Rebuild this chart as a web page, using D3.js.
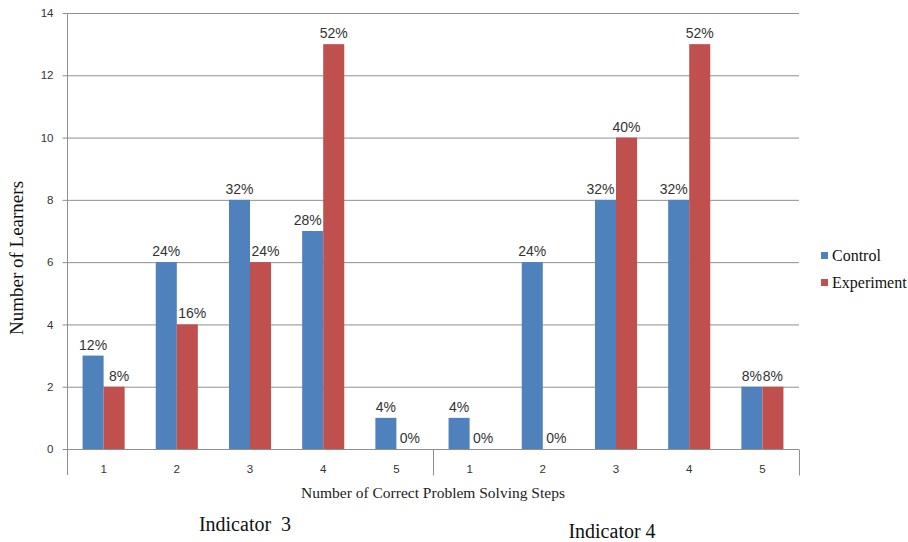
<!DOCTYPE html>
<html>
<head>
<meta charset="utf-8">
<script src="https://cdn.jsdelivr.net/npm/d3@7"></script>
<style>
  html, body { margin: 0; padding: 0; background: #fff; }
  svg { display: block; }
  .sans { font-family: "Liberation Sans", Arial, sans-serif; }
  .serif { font-family: "Liberation Serif", "Times New Roman", serif; }
</style>
</head>
<body>
<svg id="chart" width="908" height="542"></svg>
<script>
// Learners per number of correct problem-solving steps, two indicators
const steps = ["1", "2", "3", "4", "5"];
const indicators = ["Indicator  3", "Indicator 4"];
const seriesNames = ["Control", "Experiment"];
const seriesColors = ["#4F81BD", "#C0504D"];

const control3 = [3, 6, 8, 7, 1];
const experiment3 = [2, 4, 6, 13, 0];
const control4 = [1, 6, 8, 8, 2];
const experiment4 = [0, 0, 10, 13, 2];

const controlLabels3 = ["12%", "24%", "32%", "28%", "4%"];
const experimentLabels3 = ["8%", "16%", "24%", "52%", "0%"];
const controlLabels4 = ["4%", "24%", "32%", "32%", "8%"];
const experimentLabels4 = ["0%", "0%", "40%", "52%", "8%"];

const yTicks = [0, 2, 4, 6, 8, 10, 12, 14];

// Flatten into one row per category slot
const rows = [];
[[control3, experiment3, controlLabels3, experimentLabels3],
 [control4, experiment4, controlLabels4, experimentLabels4]].forEach((g, gi) => {
  steps.forEach((s, i) => {
    rows.push({
      key: gi + "-" + s, step: s, group: gi,
      values: [g[0][i], g[1][i]],
      labels: [g[2][i], g[3][i]]
    });
  });
});

const svg = d3.select("#chart");
const m = { left: 67, right: 799, top: 13, bottom: 449 };

const x = d3.scaleBand().domain(rows.map(r => r.key)).range([m.left, m.right]).paddingInner(0).paddingOuter(0);
const xs = d3.scaleBand().domain(seriesNames).range([0, x.bandwidth()]).paddingInner(0).paddingOuter(0.74);
const y = d3.scaleLinear().domain([0, 14]).range([m.bottom, m.top]);

const gridColor = "#8f8f8f";

// Horizontal gridlines
svg.append("g")
  .selectAll("line").data(yTicks.filter(t => t > 0)).join("line")
  .attr("x1", m.left).attr("x2", m.right)
  .attr("y1", d => y(d) + 0.5).attr("y2", d => y(d) + 0.5)
  .attr("stroke", gridColor).attr("stroke-width", 1);

// Y axis
const yAxis = svg.append("g").attr("transform", `translate(${m.left + 0.5},0)`)
  .call(d3.axisLeft(y).tickValues(yTicks).tickSize(5).tickPadding(9).tickFormat(d3.format("d")));
yAxis.attr("font-family", null).attr("font-size", null);
yAxis.select(".domain").attr("stroke", gridColor).attr("d", `M0,${m.top}V${m.bottom + 26}`);
yAxis.selectAll(".tick line").attr("stroke", gridColor);
yAxis.selectAll(".tick text").attr("class", "sans").attr("font-size", 11.5).attr("fill", "#333");

// Bars
const barGroups = svg.append("g").selectAll("g").data(rows).join("g")
  .attr("transform", d => `translate(${x(d.key)},0)`);

barGroups.selectAll("rect").data(d => d.values.map((v, i) => ({ v, i, name: seriesNames[i] })))
  .join("rect")
  .attr("x", d => xs(d.name))
  .attr("width", xs.bandwidth())
  .attr("y", d => y(d.v))
  .attr("height", d => y(0) - y(d.v))
  .attr("fill", d => seriesColors[d.i]);

// Value labels above bars; a label steps away from a taller neighbouring bar
barGroups.selectAll("text").data(d => d.values.map((v, i) => {
    const other = d.values[1 - i];
    const dir = i === 0 ? -1 : 1;
    const nudge = other > v ? dir * (v === 0 ? 3 : 5) : 0;
    return { v, i, name: seriesNames[i], label: d.labels[i], nudge };
  }))
  .join("text")
  .attr("class", "sans")
  .attr("x", d => xs(d.name) + xs.bandwidth() / 2 + d.nudge)
  .attr("y", d => y(d.v) - 6)
  .attr("text-anchor", "middle")
  .attr("font-size", 14)
  .attr("fill", "#333")
  .text(d => d.label);

// X axis baseline and category ticks
const xAxis = svg.append("g").attr("transform", `translate(0,${m.bottom + 0.5})`);
xAxis.append("line").attr("x1", m.left).attr("x2", m.right).attr("stroke", gridColor);
[m.left + x.bandwidth() * 5, m.right].forEach(px => {
  xAxis.append("line").attr("x1", Math.round(px) + 0.5).attr("x2", Math.round(px) + 0.5)
    .attr("y1", 0).attr("y2", 26).attr("stroke", gridColor);
});
xAxis.selectAll("text.cat").data(rows).join("text")
  .attr("class", "cat sans")
  .attr("x", d => x(d.key) + x.bandwidth() / 2)
  .attr("y", 23)
  .attr("text-anchor", "middle")
  .attr("font-size", 11.5).attr("fill", "#333")
  .text(d => d.step);

// Axis titles
svg.append("text")
  .attr("class", "serif")
  .attr("transform", `translate(23,258) rotate(-90)`)
  .attr("text-anchor", "middle")
  .attr("font-size", 19).attr("fill", "#111")
  .text("Number of Learners");

svg.append("text")
  .attr("class", "serif")
  .attr("x", 433).attr("y", 498)
  .attr("text-anchor", "middle")
  .attr("font-size", 15.5).attr("fill", "#222")
  .text("Number of Correct Problem Solving Steps");

// Indicator captions under each group
const captionX = [245, 612];
const captionY = [531, 538];
svg.selectAll("text.ind").data(indicators).join("text")
  .attr("class", "ind serif")
  .attr("x", (d, i) => captionX[i]).attr("y", (d, i) => captionY[i])
  .attr("text-anchor", "middle")
  .attr("font-size", 20).attr("fill", "#111")
  .style("white-space", "pre")
  .text(d => d);

// Legend
const legend = svg.append("g").attr("transform", "translate(821,256)");
const li = legend.selectAll("g").data(seriesNames).join("g")
  .attr("transform", (d, i) => `translate(0,${i * 27})`);
li.append("rect").attr("x", 0).attr("y", -4).attr("width", 7).attr("height", 7)
  .attr("fill", (d, i) => seriesColors[i]);
li.append("text").attr("class", "serif").attr("x", 11).attr("y", 5)
  .attr("font-size", 16).attr("fill", "#111")
  .text(d => d);
</script>
</body>
</html>
